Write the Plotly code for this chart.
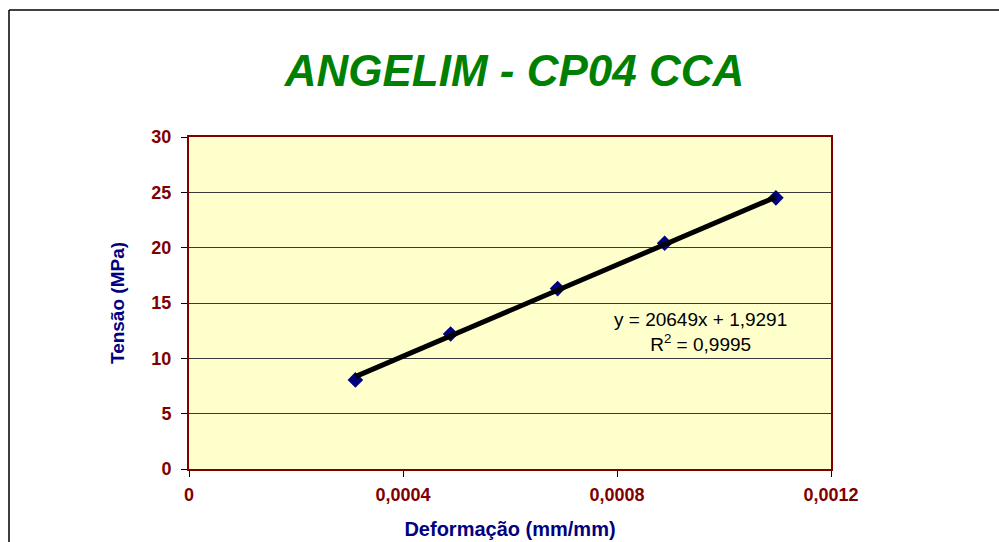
import plotly.graph_objects as go

# Data
deformacao = [0.000311, 0.000489, 0.000689, 0.000889, 0.001097]
tensao = [8.05, 12.2, 16.3, 20.4, 24.5]
trend_slope = 20649
trend_intercept = 1.9291
r2_text = "0,9995"
x_tickvals = [0, 0.0004, 0.0008, 0.0012]
x_ticktext = ["0", "0,0004", "0,0008", "0,0012"]
y_tickvals = [0, 5, 10, 15, 20, 25, 30]

trend_x = [deformacao[0], deformacao[-1]]
trend_y = [trend_slope * v + trend_intercept for v in trend_x]

W, H = 999, 542
L, R, T, B = 189, 999 - 831, 137, 542 - 469
pw, ph = W - L - R, H - T - B

fig = go.Figure()
fig.add_trace(go.Scatter(
    x=deformacao, y=tensao, mode="markers",
    marker=dict(symbol="diamond", size=12, color="#000080",
                line=dict(color="#000080", width=0)),
    showlegend=False, hoverinfo="x+y"))
fig.add_trace(go.Scatter(
    x=trend_x, y=trend_y, mode="lines",
    line=dict(color="#000000", width=5),
    showlegend=False, hoverinfo="skip"))

font_family = "Liberation Sans, Arial, sans-serif"

fig.update_layout(
    width=W, height=H,
    margin=dict(l=L, r=R, t=T, b=B, autoexpand=False),
    paper_bgcolor="#FFFFFF",
    plot_bgcolor="#FFFFCC",
    font=dict(family=font_family),
    title=dict(
        text="<b><i>ANGELIM - CP04 CCA</i></b>",
        font=dict(family=font_family, size=44, color="#008000"),
        x=514.5 / W, xanchor="center", xref="container",
        y=1 - 71 / H, yanchor="middle", yref="container"),
    xaxis=dict(
        range=[0, 0.0012], tickvals=x_tickvals, ticktext=x_ticktext,
        showgrid=False, zeroline=False,
        showline=True, linecolor="#800000", linewidth=2, mirror=True,
        ticks="outside", ticklen=6, tickcolor="#000000", tickwidth=1,
        ticklabelstandoff=2,
        tickfont=dict(family=font_family, size=18, color="#800000", weight="bold"),
        title=dict(text="<b>Deformação (mm/mm)</b>", standoff=18,
                   font=dict(family=font_family, size=20, color="#000080")),
        automargin=False),
    yaxis=dict(
        range=[0, 30], tickvals=y_tickvals,
        showgrid=True, gridcolor="#3a3a3a", gridwidth=1, zeroline=False,
        showline=True, linecolor="#800000", linewidth=2, mirror=True,
        ticks="outside", ticklen=6, tickcolor="#000000", tickwidth=1,
        ticklabelstandoff=6,
        tickfont=dict(family=font_family, size=18, color="#800000", weight="bold"),
        title=dict(text="<b>Tensão (MPa)</b>", standoff=22,
                   font=dict(family=font_family, size=19, color="#000080")),
        automargin=False),
    annotations=[
        dict(text="y = 20649x + 1,9291<br>R<sup>2</sup> = " + r2_text,
             xref="paper", yref="paper",
             x=(700 - L) / pw, y=(469 - 332) / ph,
             xanchor="center", yanchor="middle", showarrow=False, align="center",
             font=dict(family=font_family, size=19, color="#000000")),
    ],
    shapes=[
        dict(type="line", xref="paper", yref="paper",
             x0=(9 - L) / pw, x1=(9 - L) / pw,
             y0=(469 - 10) / ph, y1=(469 - 560) / ph,
             line=dict(color="#000000", width=1.5)),
        dict(type="line", xref="paper", yref="paper",
             x0=(9 - L) / pw, x1=(1010 - L) / pw,
             y0=(469 - 10) / ph, y1=(469 - 10) / ph,
             line=dict(color="#000000", width=1.5)),
    ],
)

fig.write_html(
    "out.html",
    config={"displayModeBar": False},
    post_script="document.body.style.margin='0';document.body.style.padding='0';"
                "document.documentElement.style.overflow='hidden';")
